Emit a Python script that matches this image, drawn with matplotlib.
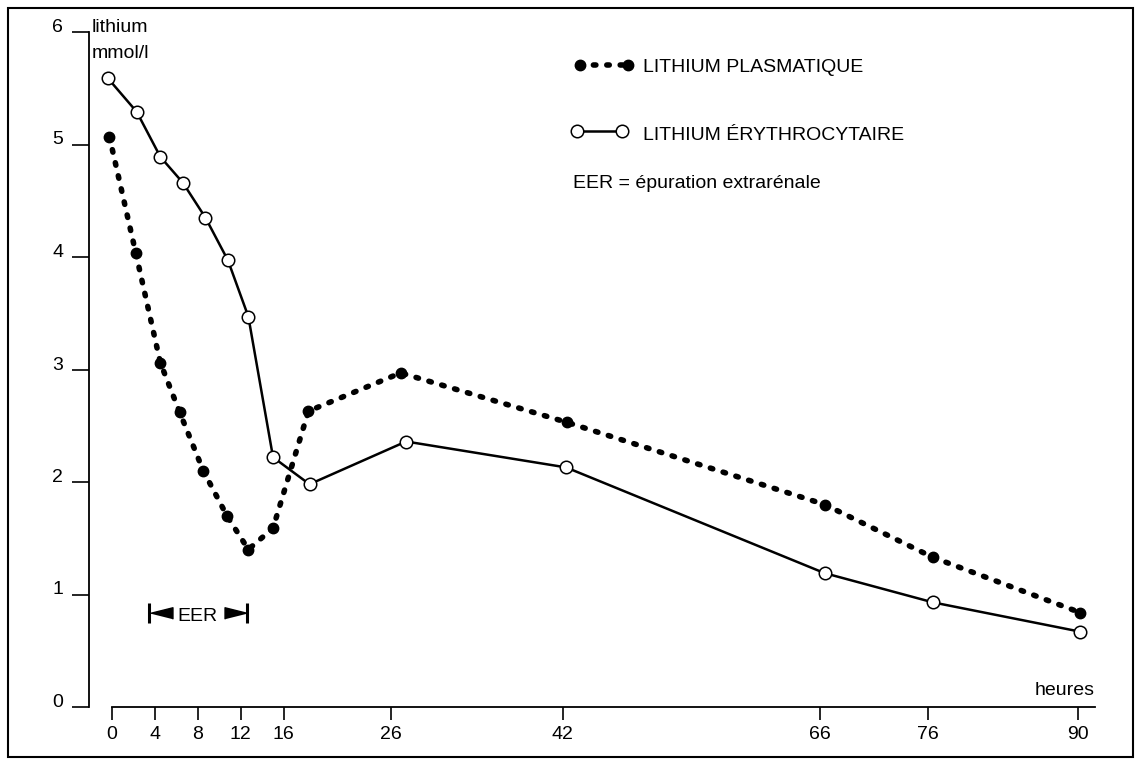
import matplotlib
matplotlib.use('Agg')
import matplotlib.pyplot as plt
from matplotlib.transforms import ScaledTranslation, IdentityTransform
from matplotlib.patches import Rectangle
from matplotlib.lines import Line2D

plt.rcParams['font.family'] = ['Liberation Sans', 'DejaVu Sans']

# ---- data ----
hours_plasma = [-0.25, 2.2, 4.5, 6.3, 8.5, 10.7, 12.7, 15.0, 18.3, 26.9, 42.4, 66.4, 76.5, 90.2]
lithium_plasma = [5.07, 4.04, 3.06, 2.62, 2.10, 1.70, 1.40, 1.59, 2.63, 2.97, 2.53, 1.80, 1.33, 0.84]
hours_ery = [-0.4, 2.3, 4.5, 6.6, 8.7, 10.8, 12.7, 15.0, 18.4, 27.4, 42.3, 66.4, 76.5, 90.2]
lithium_ery = [5.59, 5.29, 4.89, 4.66, 4.35, 3.97, 3.47, 2.22, 1.98, 2.36, 2.13, 1.19, 0.93, 0.67]
xticks = [0, 4, 8, 12, 16, 26, 42, 66, 76, 90]
yticks = [0, 1, 2, 3, 4, 5, 6]
eer_start, eer_end, eer_level = 3.45, 12.6, 0.84
label_plasma = "LITHIUM PLASMATIQUE"
label_ery = "LITHIUM ÉRYTHROCYTAIRE"
label_eer = "EER = épuration extrarénale"

W, H = 1141, 765
fig = plt.figure(figsize=(W / 100, H / 100), dpi=100)
ax = fig.add_axes([89 / W, 1 - 707 / H, (1095 - 89) / W, (707 - 32) / H])
ax.set_xlim(-2.15, 91.6)
ax.set_ylim(0, 6)

for s in ('top', 'right'):
    ax.spines[s].set_visible(False)
ax.spines['left'].set_bounds(0, 6)
ax.spines['bottom'].set_bounds(0, 91.6)
for s in ('left', 'bottom'):
    ax.spines[s].set_linewidth(1.3)

ax.set_xticks(xticks)
ax.set_xticklabels([str(v) for v in xticks])
ax.set_yticks(yticks)
ax.set_yticklabels([str(v) for v in yticks])
ax.tick_params(axis='y', direction='out', length=12, width=1.2, pad=6.5, labelsize=14)
ax.tick_params(axis='x', direction='out', length=9, width=1.2, pad=4.5, labelsize=14)
for t in ax.get_yticklabels():
    t.set_verticalalignment('baseline')

plasma_style = dict(color='black', lw=4, linestyle=(0, (0.45, 1.96)),
                    dash_capstyle='round', marker='o', ms=7.5, mfc='black', mec='black')
ery_style = dict(color='black', lw=1.8, marker='o', ms=9, mfc='white', mec='black', mew=1.1)

ax.plot(hours_ery, lithium_ery, clip_on=False, zorder=3, **ery_style)
ax.plot(hours_plasma, lithium_plasma, clip_on=False, zorder=4, **plasma_style)

# axis titles
ax.text(92 / W, 1 - 32 / H, "lithium", transform=fig.transFigure, fontsize=14,
        ha='left', va='baseline')
ax.text(92 / W, 1 - 58 / H, "mmol/l", transform=fig.transFigure, fontsize=14,
        ha='left', va='baseline')
ax.text(1095 / W, 1 - 695 / H, "heures", transform=fig.transFigure, fontsize=14,
        ha='right', va='baseline')

# legend (drawn manually)
ident = IdentityTransform()
fig.add_artist(Line2D([580, 628], [H - 65, H - 65], transform=ident, **plasma_style))
fig.add_artist(Line2D([577, 622], [H - 131, H - 131], transform=ident, **ery_style))
fig.text(643 / W, 1 - 72 / H, label_plasma, fontsize=14, ha='left', va='baseline')
fig.text(643 / W, 1 - 140 / H, label_ery, fontsize=14, ha='left', va='baseline')
fig.text(573 / W, 1 - 188 / H, label_eer, fontsize=14, ha='left', va='baseline')

# EER interval marker
ax.plot([eer_start, eer_end], [eer_level, eer_level], linestyle='none', marker='|',
        ms=14.5, mew=2.2, color='black', zorder=5)
left_tri = [(-1, 0), (1, 0.5), (1, -0.5)]
right_tri = [(1, 0), (-1, 0.5), (-1, -0.5)]
off_r = ax.transData + ScaledTranslation(11.5 / 100, 0, fig.dpi_scale_trans)
off_l = ax.transData + ScaledTranslation(-11.5 / 100, 0, fig.dpi_scale_trans)
ax.plot([eer_start], [eer_level], marker=left_tri, ms=16.5, color='black',
        linestyle='none', transform=off_r)
ax.plot([eer_end], [eer_level], marker=right_tri, ms=16.5, color='black',
        linestyle='none', transform=off_l)
txt_off = ax.transData + ScaledTranslation(28 / 100, -8.7 / 100, fig.dpi_scale_trans)
ax.text(eer_start, eer_level, "EER", transform=txt_off, fontsize=14, ha='left', va='baseline')

# outer frame
fig.add_artist(Rectangle((8 / W, 8 / H), (1133 - 8) / W, (757 - 8) / H,
                         transform=fig.transFigure, fill=False, lw=1.5, ec='black'))

fig.savefig('out.png', dpi=100)
